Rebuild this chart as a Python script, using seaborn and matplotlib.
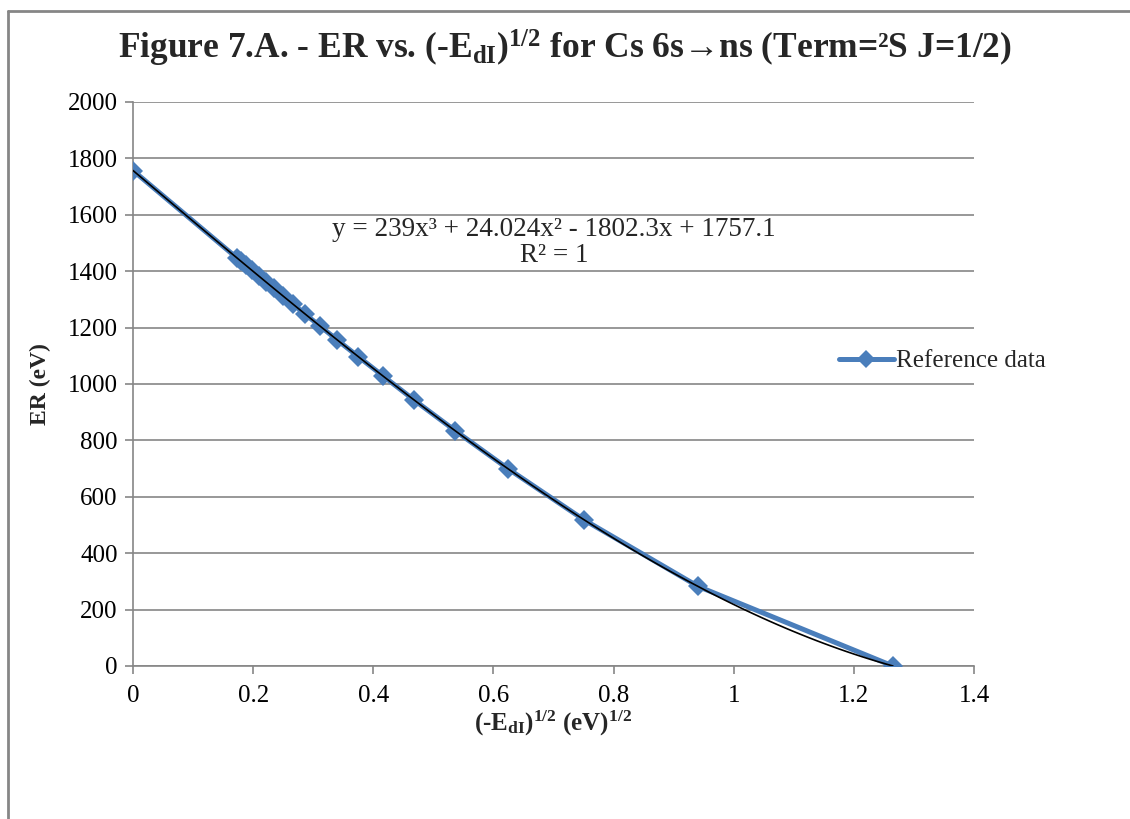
import numpy as np
import pandas as pd
import matplotlib
matplotlib.use("Agg")
import matplotlib.pyplot as plt
from matplotlib.lines import Line2D
import seaborn as sns

# (-E_dI)^1/2 values and ER values
sqrt_edi = [0.0, 0.173, 0.180, 0.188, 0.198, 0.209, 0.221, 0.234, 0.249,
            0.266, 0.287, 0.311, 0.340, 0.375, 0.416, 0.468, 0.536, 0.624,
            0.751, 0.941, 1.265]
er_values = [1757, 1447, 1435, 1421, 1403, 1384, 1362, 1340, 1313,
             1284, 1247, 1206, 1156, 1097, 1029, 943, 835, 700,
             518, 282, 0]

x_ticks = [0, 0.2, 0.4, 0.6, 0.8, 1.0, 1.2, 1.4]
x_tick_labels = ["0", "0.2", "0.4", "0.6", "0.8", "1", "1.2", "1.4"]
y_ticks = list(range(0, 2001, 200))

df = pd.DataFrame({"x": sqrt_edi, "er": er_values})

sns.set_style("white")
plt.rcParams["font.family"] = ["Liberation Serif", "DejaVu Serif"]
plt.rcParams["mathtext.fontset"] = "custom"
plt.rcParams["mathtext.rm"] = "Liberation Serif"
plt.rcParams["mathtext.it"] = "Liberation Serif:italic"
plt.rcParams["mathtext.bf"] = "Liberation Serif:bold"

blue = "#4A7EBB"
grid_c = "#868686"

fig = plt.figure(figsize=(11.3, 8.19), dpi=100)
ax = fig.add_axes([133 / 1130, 1 - 666 / 819, (974 - 133) / 1130, (666 - 102) / 819])

sns.lineplot(data=df, x="x", y="er", ax=ax, sort=False, color=blue,
             linewidth=3.6, marker="D", markersize=10, markeredgewidth=0,
             zorder=3)
sns.regplot(data=df, x="x", y="er", ax=ax, order=3, ci=None, scatter=False,
            line_kws={"color": "black", "linewidth": 1.2, "zorder": 4})

ax.set_xlim(0, 1.4)
ax.set_ylim(0, 2000)
ax.set_xticks(x_ticks)
ax.set_xticklabels(x_tick_labels)
ax.set_yticks(y_ticks)
ax.yaxis.grid(True, color=grid_c, linewidth=1.2)
ax.xaxis.grid(False)
ax.set_axisbelow(True)
for s in ["top", "right"]:
    ax.spines[s].set_visible(False)
for s in ["left", "bottom"]:
    ax.spines[s].set_color(grid_c)
    ax.spines[s].set_linewidth(1.2)
ax.tick_params(axis="both", direction="out", length=6, width=1.2,
               color=grid_c, labelsize=18, labelcolor="black", pad=6)
ax.tick_params(axis="x", bottom=True, pad=8)
ax.tick_params(axis="y", left=True, pad=5)

ax.set_xlabel(r"(-E$_{\mathbf{dI}}$)$^{\mathbf{1/2}}$ (eV)$^{\mathbf{1/2}}$",
              fontsize=18, fontweight="bold", labelpad=1)
ax.set_ylabel("ER (eV)", fontsize=17, fontweight="bold", labelpad=12)

fig.text(565 / 1130, 1 - 48 / 819,
         r"Figure 7.A. - ER vs. (-E$_{\mathbf{dI}}$)$^{\mathbf{1/2}}$ for Cs 6s→ns (Term=²S J=1/2)",
         ha="center", va="center", fontsize=25.5, fontweight="bold")

ax.text(554 / 1130, 1 - 230 / 819, "y = 239x³ + 24.024x² - 1802.3x + 1757.1",
        transform=fig.transFigure, ha="center", va="center", fontsize=19.5)
ax.text(554 / 1130, 1 - 256 / 819, "R² = 1",
        transform=fig.transFigure, ha="center", va="center", fontsize=19.5)

handle = Line2D([], [], color=blue, linewidth=3.6, marker="D", markersize=9,
                markeredgewidth=0)
fig.legend([handle], ["Reference data"], loc="center left",
           bbox_to_anchor=(826 / 1130, 1 - 361 / 819), frameon=False,
           fontsize=18, handlelength=2.2, handletextpad=0.1, borderpad=0)

# outer chart border (top and left only are visible in the crop)
fig.add_artist(Line2D([8 / 1130, 8 / 1130], [0, 1 - 11 / 819],
                      transform=fig.transFigure, color=grid_c, linewidth=2))
fig.add_artist(Line2D([8 / 1130, 1], [1 - 11 / 819, 1 - 11 / 819],
                      transform=fig.transFigure, color=grid_c, linewidth=2))

fig.savefig("out.png", dpi=100, facecolor="white")
